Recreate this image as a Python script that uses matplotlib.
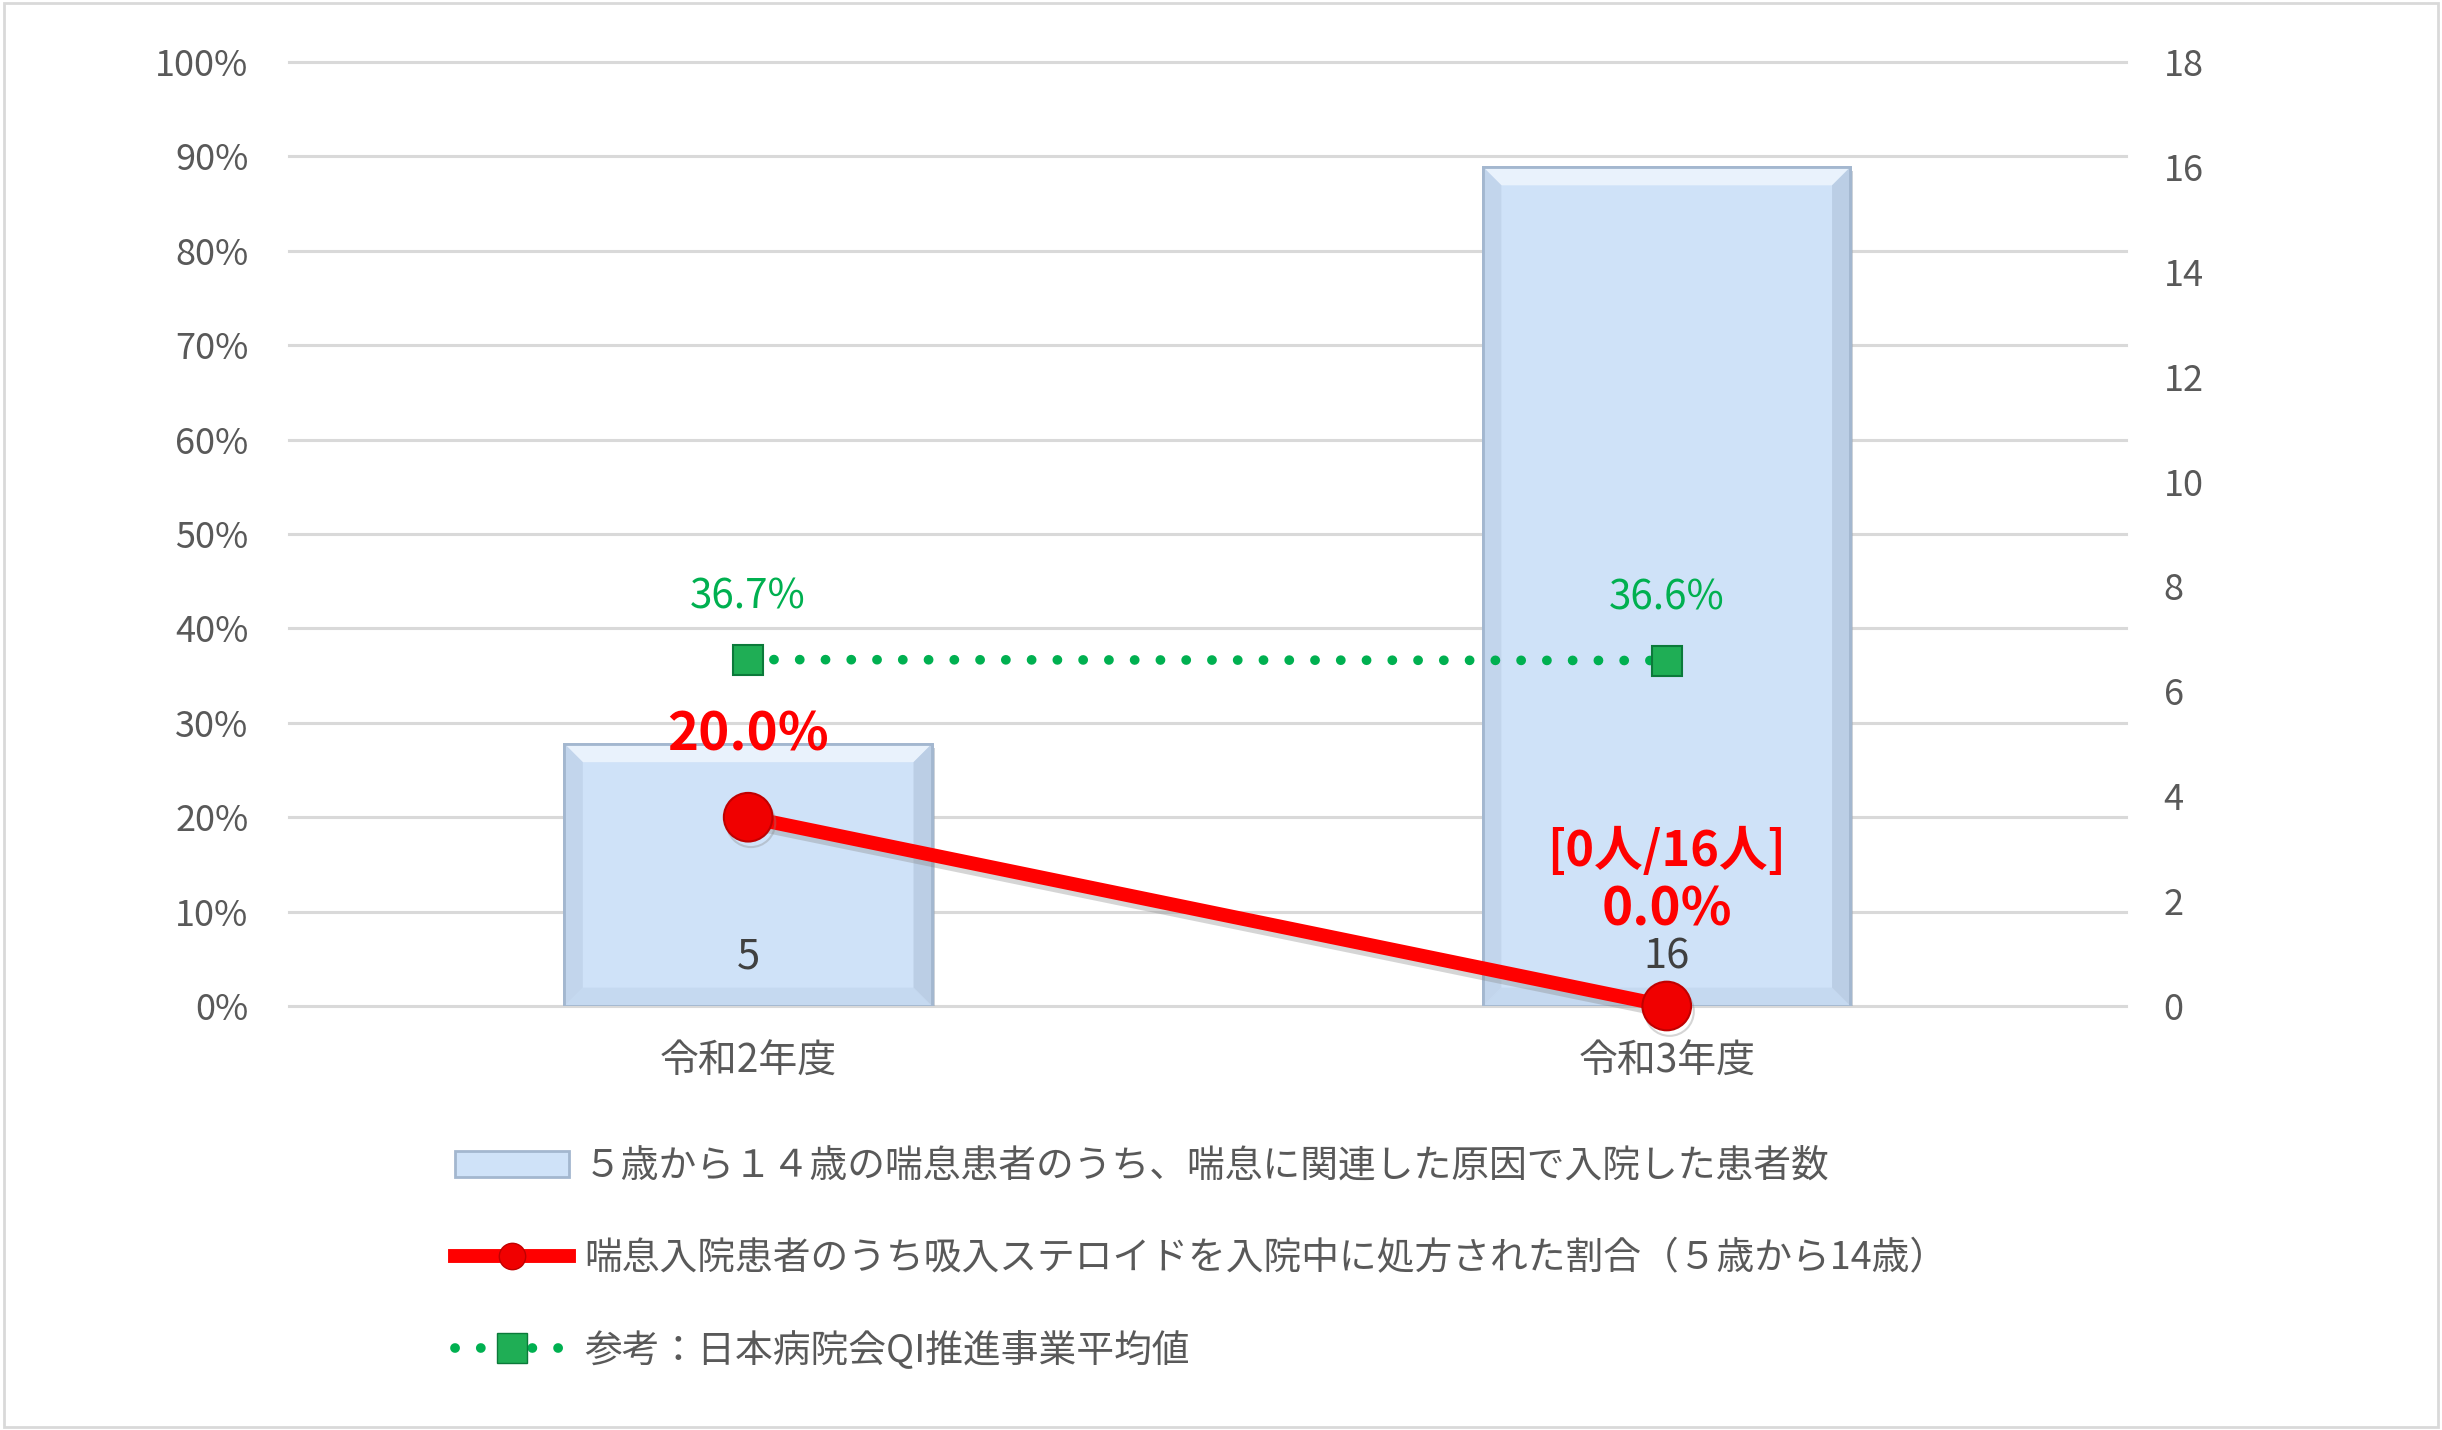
import matplotlib
matplotlib.use("Agg")
import matplotlib.pyplot as plt
import numpy as np
from matplotlib.lines import Line2D
from matplotlib.patches import Rectangle, Patch, Polygon
import matplotlib.patheffects as pe

plt.rcParams['font.family'] = ['Noto Sans CJK JP', 'DejaVu Sans']

# ---- data ----
categories = ['令和2年度', '令和3年度']
patients = [5, 16]                     # bars, right axis
steroid_rate = [0.200, 0.000]          # red line, left axis
qi_average = [0.367, 0.366]            # green dotted line, left axis
extra_label_2 = '[0人/16人]'
left_ticks = np.linspace(0, 1, 11)
right_ticks = np.arange(0, 19, 2)

legend_labels = [
    '５歳から１４歳の喘息患者のうち、喘息に関連した原因で入院した患者数',
    '喘息入院患者のうち吸入ステロイドを入院中に処方された割合（５歳から14歳）',
    '参考：日本病院会QI推進事業平均値',
]

GRAY_TXT = '#595959'
RED = '#ff0000'
GREEN = '#00b050'
BAR_FACE = '#cfe2f8'
BAR_EDGE = '#a3b7cf'

fig = plt.figure(figsize=(24.42, 14.30), dpi=100)
fig.patch.set_facecolor('white')
fig.add_artist(Rectangle((0.0015, 0.002), 0.997, 0.996, transform=fig.transFigure,
                         fill=False, edgecolor='#d9d9d9', lw=2))

ax = fig.add_axes([0.1183, 0.2965, 0.8706 - 0.1183, 0.9566 - 0.2965])
ax2 = ax.twinx()
ax.set_zorder(3)
ax.patch.set_visible(False)
ax2.set_zorder(1)

x = np.arange(len(categories))
BAR_W = 0.4
YMAX2 = 18

# gridlines at the percent ticks (drawn on the bar axis so bars cover them)
for t in left_ticks:
    ax2.axhline(t * YMAX2, color='#d9d9d9', lw=2.2, zorder=0, clip_on=False)

# bars on right axis
bars = ax2.bar(x, patients, width=BAR_W, color=BAR_FACE, edgecolor=BAR_EDGE, linewidth=2.0,
               zorder=3,
               path_effects=[pe.SimplePatchShadow(offset=(2, -3), shadow_rgbFace='#9aa7b5', alpha=0.5),
                             pe.Normal()])
ax2.set_ylim(0, YMAX2)
ax2.set_xlim(-0.5, len(categories) - 0.5)

# bevel effect derived from each bar's geometry
bx = 0.02
by = bx * YMAX2 * (918.5 / 944.0)
for b in bars:
    x0, y0 = b.get_x(), b.get_y()
    x1, y1 = x0 + b.get_width(), y0 + b.get_height()
    faces = [
        ([(x0, y1), (x1, y1), (x1 - bx, y1 - by), (x0 + bx, y1 - by)], '#eef5fd'),
        ([(x0, y0), (x1, y0), (x1 - bx, y0 + by), (x0 + bx, y0 + by)], '#c4d8ef'),
        ([(x0, y0), (x0, y1), (x0 + bx, y1 - by), (x0 + bx, y0 + by)], '#c0d3ea'),
        ([(x1, y0), (x1, y1), (x1 - bx, y1 - by), (x1 - bx, y0 + by)], '#b8cbe2'),
    ]
    for pts, col in faces:
        ax2.add_patch(Polygon(pts, closed=True, facecolor=col, edgecolor='none',
                              alpha=0.85, zorder=3.5))
    ax2.add_patch(Rectangle((x0, y0), b.get_width(), b.get_height(), fill=False,
                            edgecolor=BAR_EDGE, lw=2.0, zorder=3.6))

ax2.set_yticks(right_ticks)
ax2.tick_params(axis='y', which='both', length=0, labelsize=26, labelcolor=GRAY_TXT, pad=27)

for xi, v in zip(x, patients):
    ax2.annotate(f'{v}', (xi, 0), xytext=(0, 35), textcoords='offset points',
                 ha='center', va='center', fontsize=30, color='#404040', zorder=5)

# lines on left axis
ax.plot(x, steroid_rate, color=RED, lw=10, marker='o', markersize=35,
        markerfacecolor='#f00000', markeredgecolor='#c00000', markeredgewidth=1.5,
        solid_capstyle='round', zorder=4, clip_on=False,
        path_effects=[pe.SimpleLineShadow(offset=(2, -4), shadow_color='#888888', alpha=0.35),
                      pe.Normal()])
ax.plot(x, qi_average, color=GREEN, lw=7, linestyle=(0, (0.01, 2.64)),
        dash_capstyle='round', marker='s', markersize=21, clip_on=False,
        markerfacecolor='#1fae55', markeredgecolor='#0b7a3a', markeredgewidth=1.5, zorder=4)

ax.set_ylim(0, 1)
ax.set_xlim(-0.5, len(categories) - 0.5)
ax.set_yticks(left_ticks)
ax.set_yticklabels([f'{int(round(t * 100))}%' for t in left_ticks])
ax.tick_params(axis='y', length=0, labelsize=26, labelcolor=GRAY_TXT, pad=29)
ax.set_xticks(x)
ax.set_xticklabels(categories)
ax.tick_params(axis='x', length=0, labelsize=28, labelcolor=GRAY_TXT, pad=26)
ax2.tick_params(axis='x', length=0)
for a in (ax, ax2):
    for s in a.spines.values():
        s.set_visible(False)

# labels
for xi, v in zip(x, qi_average):
    ax.annotate(f'{v * 100:.1f}%', (xi, v), xytext=(0, 45), textcoords='offset points',
                ha='center', va='center', fontsize=29, color=GREEN, zorder=6)

offsets = [59, 69]
for xi, v, off in zip(x, steroid_rate, offsets):
    ax.annotate(f'{v * 100:.1f}%', (xi, v), xytext=(0, off), textcoords='offset points',
                ha='center', va='center', fontsize=38, fontweight='bold', color=RED, zorder=6)
ax.annotate(extra_label_2, (x[1], steroid_rate[1]), xytext=(0, 111), textcoords='offset points',
            ha='center', va='center', fontsize=35, fontweight='bold', color=RED, zorder=6)

# legend
handles = [
    Patch(facecolor=BAR_FACE, edgecolor=BAR_EDGE, linewidth=2),
    Line2D([], [], color=RED, lw=10, marker='o', markersize=19,
           markerfacecolor='#f00000', markeredgecolor='#c00000'),
    Line2D([], [], color=GREEN, lw=7, linestyle=(0, (0.01, 2.64)), dash_capstyle='round',
           marker='s', markersize=21, markerfacecolor='#1fae55', markeredgecolor='#0b7a3a'),
]
leg = fig.legend(handles, legend_labels, loc='upper left',
                 bbox_to_anchor=(0.1865, 1 - 1147 / 1430), frameon=False,
                 fontsize=27.2, handlelength=3.0, handletextpad=0.4,
                 labelspacing=1.4, borderpad=0, borderaxespad=0)
for t in leg.get_texts():
    t.set_color(GRAY_TXT)

fig.savefig('out.png', dpi=100, facecolor='white')
